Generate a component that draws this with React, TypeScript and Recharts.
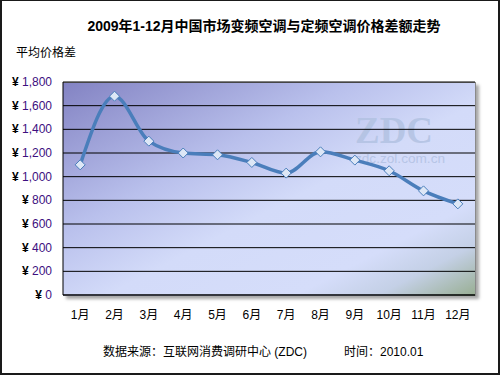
import React from 'react';
import { LineChart, Line, XAxis, YAxis, CartesianGrid } from 'recharts';

const months = ['1月', '2月', '3月', '4月', '5月', '6月', '7月', '8月', '9月', '10月', '11月', '12月'];
const priceGap = [1100, 1680, 1300, 1200, 1185, 1120, 1030, 1210, 1140, 1050, 880, 770];
const yTicks = [0, 200, 400, 600, 800, 1000, 1200, 1400, 1600, 1800];
const boundaryTicks = [0, 1, 2, 3, 4, 5, 6, 7, 8, 9, 10, 11, 12];

const title = '2009年1-12月中国市场变频空调与定频空调价格差额走势';
const yTitle = '平均价格差';
const sourceText = '数据来源：互联网消费调研中心 (ZDC)';
const timeText = '时间：2010.01';
const watermarkBig = 'ZDC';
const watermarkSmall = 'zdc.zol.com.cn';

const data = months.map((m, i) => ({ month: m, gap: priceGap[i] }));

const FONT = "Arial, 'Liberation Sans', 'Noto Sans CJK SC', sans-serif";

const fmt = (v: number) => v.toLocaleString('en-US');

const YTick = (props: any) => {
  const { x, y, payload } = props;
  return (
    <text x={x} y={y} dy={4} textAnchor="end" fontSize={12} fontFamily={FONT}>
      <tspan fill="#000" fontWeight="bold">¥ </tspan>
      <tspan fill="#3d0f80">{fmt(payload.value)}</tspan>
    </text>
  );
};

const XTick = (props: any) => {
  const { x, y, payload } = props;
  return (
    <text x={x} y={y} dy={24} textAnchor="middle" fontSize={12} fontFamily={FONT} fill="#000">
      {payload.value}
    </text>
  );
};

const Diamond = (props: any) => {
  const { cx, cy, index } = props;
  if (cx == null || cy == null) return <g key={`d-${index}`} />;
  const r = 5;
  return (
    <path
      key={`d-${index}`}
      d={`M${cx},${cy - r}L${cx + r},${cy}L${cx},${cy + r}L${cx - r},${cy}Z`}
      fill="#DDE7F6"
      stroke="#4A7EBB"
      strokeWidth={1}
    />
  );
};

export default function App() {
  return (
    <div style={{ position: 'absolute', left: 0, top: 0, width: 500, height: 375, background: '#fff', overflow: 'hidden' }}>
      {/* plot background */}
      <div
        style={{
          position: 'absolute',
          left: 63,
          top: 82,
          width: 413,
          height: 214,
          boxSizing: 'border-box',
          borderRight: '1px solid #8a8a8a',
          borderTop: '1px solid #8a8a8a',
          background:
            'linear-gradient(to bottom right, #8383C3 0%, #B9C0EC 35%, #D3DBF9 55%, #D5DDFA 78%, #C4D0E6 88%, #98AE92 100%)',
          boxShadow: '3px 3px 3px rgba(0,0,0,0.35)',
        }}
      />
      {/* watermark */}
      <svg width={500} height={375} style={{ position: 'absolute', left: 0, top: 0 }}>
        <text
          x={355}
          y={143}
          fontSize={38}
          fontWeight="bold"
          fontFamily="'Liberation Serif', 'DejaVu Serif', serif"
          fill="#B2C2E2"
          fillOpacity={0.85}
          textLength={78}
          lengthAdjust="spacingAndGlyphs"
        >
          {watermarkBig}
        </text>
        <text x={355} y={163} fontSize={12} fontFamily={FONT} fill="#B7C5E6" textLength={90} lengthAdjust="spacingAndGlyphs">
          {watermarkSmall}
        </text>
      </svg>
      <div style={{ position: 'absolute', left: 0, top: 0 }}>
        <LineChart width={500} height={375} data={data} margin={{ top: 82, right: 25, bottom: 50, left: 8 }}>
          <CartesianGrid vertical={false} stroke="#000" strokeWidth={1} />
          <XAxis
            xAxisId="t"
            type="number"
            domain={[0, 12]}
            ticks={boundaryTicks}
            allowDataOverflow
            height={0}
            mirror
            tick={false}
            axisLine={false}
            tickLine={{ stroke: '#000' }}
            tickSize={4}
          />
          <XAxis
            dataKey="month"
            scale="band"
            height={30}
            interval={0}
            axisLine={{ stroke: '#000' }}
            tickLine={false}
            tickSize={0}
            tickMargin={0}
            tick={<XTick />}
          />
          <YAxis
            width={55}
            domain={[0, 1800]}
            ticks={yTicks}
            interval={0}
            axisLine={{ stroke: '#000' }}
            tickLine={false}
            tickSize={0}
            tickMargin={11}
            tick={<YTick />}
          />
          <Line
            type="monotone"
            dataKey="gap"
            stroke="#4A7EBB"
            strokeWidth={3.5}
            dot={Diamond}
            activeDot={false}
            isAnimationActive={false}
          />
        </LineChart>
      </div>
      {/* texts */}
      <svg width={500} height={375} style={{ position: 'absolute', left: 0, top: 0, pointerEvents: 'none' }}>
        <text x={264} y={31} textAnchor="middle" fontSize={14} fontWeight="bold" fontFamily={FONT} fill="#000">
          {title}
        </text>
        <text x={16} y={57} fontSize={12} fontFamily={FONT} fill="#000">
          {yTitle}
        </text>
        <text x={103} y={356} fontSize={12} fontFamily={FONT} fill="#000">
          {sourceText}
        </text>
        <text x={344} y={356} fontSize={12} fontFamily={FONT} fill="#000">
          {timeText}
        </text>
      </svg>
      {/* outer border */}
      <div
        style={{
          position: 'absolute',
          left: 0,
          top: 0,
          width: 500,
          height: 375,
          boxSizing: 'border-box',
          borderTop: '1px solid #1a1a1a',
          borderLeft: '2px solid #1a1a1a',
          borderRight: '2px solid #1a1a1a',
          borderBottom: '2px solid #1a1a1a',
          pointerEvents: 'none',
        }}
      />
    </div>
  );
}
